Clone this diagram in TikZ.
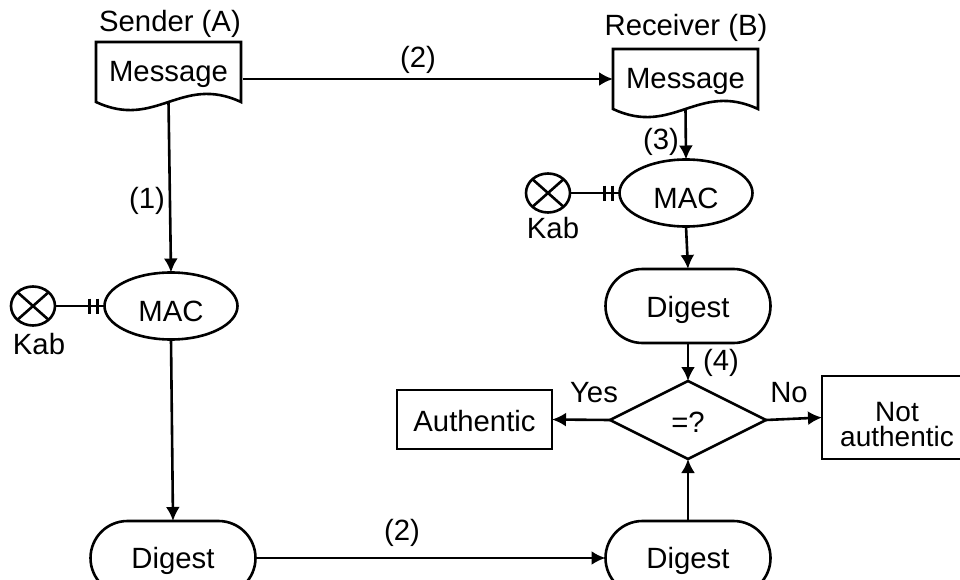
\documentclass[tikz,border=0pt]{standalone}
\usepackage{fontspec}
\setmainfont{Liberation Sans}
\usetikzlibrary{arrows.meta, calc, shapes.geometric, shapes.misc}
\tikzset{
  flow line/.style={
    line width=2.6pt,
  },
  flow arrow/.style={
    flow line,
    -{Latex[length=14pt,width=14pt]},
  },
  graph node/.style={
    flow line,
    draw,
    inner sep=0pt,
    outer sep=0pt,
    align=center,
  },
  doc node/.style={
    inner sep=0pt,
    outer sep=0pt,
    minimum width=145pt,
    minimum height=60pt,
    text height=26pt,
    text depth=6pt,
  },
  mac node/.style={
    graph node, ellipse,
    minimum width=133pt,
    minimum height=67pt,
    text height=30pt,
    text depth=0pt,
  },
  digest node/.style={
    graph node, rounded rectangle,
    minimum width=165pt,
    minimum height=74pt,
    text height=22pt,
    text depth=0pt,
  },
  key node/.style={
    graph node, ellipse,
    minimum width=44pt,
    minimum height=39pt,
    path picture={
      \draw[flow line] (path picture bounding box.north west) -- (path picture bounding box.south east);
      \draw[flow line] (path picture bounding box.north east) -- (path picture bounding box.south west);
    },
  },
  result node/.style={
    graph node,
    rectangle,
  },
  tag/.style={
    inner sep=0pt,
  },
}
\newcommand{\docoutline}[1]{
  \draw[flow line, line join=miter]
    (#1.south west) -- (#1.north west) -- (#1.north east) -- (#1.south east)
    .. controls +(-60,-28) and +(60,28) .. cycle;
}
\newcommand{\keyticks}[1]{
  \draw[flow line] ($(#1.west)+(-15,-7.5)$) -- +(0,15);
  \draw[flow line] ($(#1.west)+(-7,-7.5)$) -- +(0,15);
}

\begin{document}
\begin{tikzpicture}[x=1pt, y=-1pt, font=\fontsize{29.3}{25}\selectfont]
        \useasboundingbox (0,0) rectangle (960,580);
        \clip (0,0) rectangle (960,580);

        \node[doc node] (msgA) at (168.5,72) {Message};
        \node[doc node] (msgB) at (685.5,79) {Message};
        \docoutline{msgA}
        \docoutline{msgB}

        \node[mac node] (macA) at (171,306) {MAC};
        \node[mac node] (macB) at (686,193) {MAC};
        \node[key node] (keyA) at (33,306) {};
        \node[key node] (keyB) at (548,193) {};

        \node[digest node] (digB) at (688,306) {Digest};
        \node[digest node, text height=20pt] (digA) at (173,558) {Digest};
        \node[digest node, text height=20pt] (digC) at (688,558) {Digest};

        \node[graph node, diamond, aspect=2, minimum width=156pt, minimum height=78pt, text height=24pt, text depth=0pt] (test) at (688,420) {=?};
        \node[result node, minimum width=155pt, minimum height=59pt, text height=24pt, text depth=0pt] (auth) at (474.5,419.5) {Authentic};
        \node[result node, minimum width=150pt, minimum height=83pt, font=\fontsize{28}{24.5}\selectfont] (notauth) at (897,417.5) {Not\rule{0pt}{33pt}\\authentic};

        \node[tag] (sender)   at (170,24)  {Sender (A)};
        \node[tag] (receiver) at (686,28)  {Receiver (B)};
        \node[tag] (kabA)     at (39,344)  {Kab};
        \node[tag] (kabB)     at (553,228) {Kab};
        \node[tag] (s1)       at (147,201) {(1)};
        \node[tag] (s2a)      at (418,60)  {(2)};
        \node[tag] (s2b)      at (402,533) {(2)};
        \node[tag] (s3)       at (661,142) {(3)};
        \node[tag] (s4)       at (721,363) {(4)};
        \node[tag] (yes)      at (594,393) {Yes};
        \node[tag] (no)       at (789,393) {No};

        \draw[flow arrow] (msgA.south) -- (macA.north);
        \draw[flow arrow, shorten <=2pt] (msgA.east |- msgB.west) -- (msgB.west);
        \draw[flow arrow] (msgB.south) -- (macB.north);
        \draw[flow arrow] (macB.south) -- (digB.north);
        \draw[flow arrow] (digB.south) -- (test.north);
        \draw[flow arrow] (macA.south) -- (digA.north);
        \draw[flow arrow] (digA.east)  -- (digC.west);
        \draw[flow arrow] (digC.north) -- (test.south);
        \draw[flow arrow] (test.west)  -- (auth.east);
        \draw[flow arrow] (test.east)  -- (notauth.west);

        \draw[flow line] (keyA) -- (macA);
        \draw[flow line] (keyB) -- (macB);
        \keyticks{macA}
        \keyticks{macB}
\end{tikzpicture}
\end{document}
